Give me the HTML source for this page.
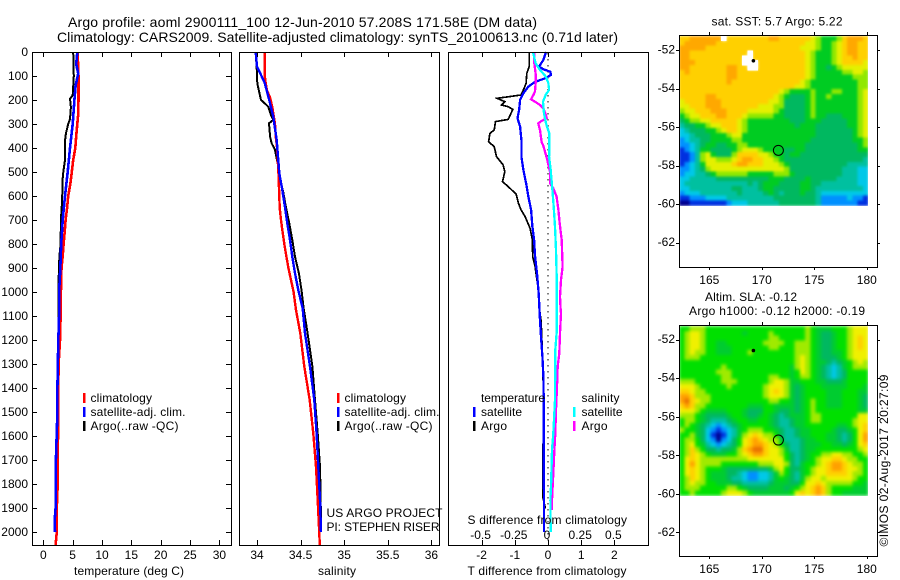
<!DOCTYPE html>
<html>
<head>
<meta charset="utf-8">
<title>Argo profile</title>
<style>
html,body{margin:0;padding:0;background:#fff;}
svg{display:block;}
text{font-family:"Liberation Sans",sans-serif;font-size:12px;fill:#000;}
.t14{font-size:14px;}
</style>
</head>
<body>
<svg id="chart" xmlns="http://www.w3.org/2000/svg" width="900" height="580" viewBox="0 0 900 580">
  <defs>
    <filter id="soften-sst" filterUnits="userSpaceOnUse" x="679" y="36" width="189" height="170" color-interpolation-filters="sRGB">
      <feGaussianBlur stdDeviation="1.3" edgeMode="duplicate"/>
    </filter>
    <filter id="soften-sla" filterUnits="userSpaceOnUse" x="679" y="326" width="189" height="170" color-interpolation-filters="sRGB">
      <feGaussianBlur stdDeviation="1.6" edgeMode="duplicate"/>
    </filter>
  </defs>
  <rect x="0" y="0" width="900" height="580" fill="#fff"/>
  <g id="maps"></g>
  <g id="marks"></g>
  <g id="axes"></g>

  <text class="t14" x="68" y="27" textLength="469">Argo profile: aoml 2900111_100 12-Jun-2010 57.208S 171.58E (DM data)</text>
  <text class="t14" x="57" y="42" textLength="561">Climatology: CARS2009. Satellite-adjusted climatology: synTS_20100613.nc (0.71d later)</text>

  <text x="74" y="575" textLength="110">temperature (deg C)</text>
  <text x="318" y="575" textLength="38">salinity</text>
  <text x="467.5" y="575" textLength="159">T difference from climatology</text>
  <text x="467.5" y="524" textLength="159.5">S difference from climatology</text>

  <g>
    <rect x="83" y="393" width="2.5" height="10" fill="#f00"/>
    <rect x="83" y="407" width="2.5" height="10" fill="#00f"/>
    <rect x="83" y="421" width="2.5" height="10" fill="#000"/>
    <text x="90.5" y="402" textLength="61.5">climatology</text>
    <text x="90.5" y="416" textLength="95">satellite-adj. clim.</text>
    <text x="90.5" y="430" textLength="88">Argo(..raw -QC)</text>
  </g>
  <g>
    <rect x="337" y="393" width="2.5" height="10" fill="#f00"/>
    <rect x="337" y="407" width="2.5" height="10" fill="#00f"/>
    <rect x="337" y="421" width="2.5" height="10" fill="#000"/>
    <text x="344.5" y="402" textLength="61.5">climatology</text>
    <text x="344.5" y="416" textLength="95">satellite-adj. clim.</text>
    <text x="344.5" y="430" textLength="88">Argo(..raw -QC)</text>
  </g>
  <g>
    <text x="481" y="402" textLength="64">temperature</text>
    <rect x="473" y="407" width="2.5" height="10" fill="#00f"/>
    <rect x="473" y="421" width="2.5" height="10" fill="#000"/>
    <text x="481" y="416" textLength="41">satellite</text>
    <text x="481" y="430" textLength="26">Argo</text>
    <text x="581.5" y="402" textLength="38">salinity</text>
    <rect x="573" y="407" width="2.5" height="10" fill="#0ff"/>
    <rect x="573" y="421" width="2.5" height="10" fill="#f0f"/>
    <text x="581.5" y="416" textLength="41">satellite</text>
    <text x="581.5" y="430" textLength="26">Argo</text>
  </g>

  <text x="326.5" y="517" textLength="116">US ARGO PROJECT</text>
  <text x="326.5" y="531" textLength="113">PI: STEPHEN RISER</text>

  <text x="711.5" y="25.5" textLength="131">sat. SST: 5.7 Argo: 5.22</text>
  <text x="705" y="301" textLength="92">Altim. SLA: -0.12</text>
  <text x="689" y="315" textLength="176">Argo h1000: -0.12 h2000: -0.19</text>
  <text transform="translate(888,546.5) rotate(-90)" x="0" y="0" textLength="172">©IMOS 02-Aug-2017 20:27:09</text>
</svg>
<script>
const depthTicks = [0,100,200,300,400,500,600,700,800,900,1000,1100,1200,1300,1400,1500,1600,1700,1800,1900,2000];
const tempTicks = [0,5,10,15,20,25,30];
const salTicks = [34,34.5,35,35.5,36];
const tDiffTicks = [-2,-1,0,1,2];
const sDiffTicks = [-0.5,-0.25,0,0.25,0.5];
const sDiffTickLabels = ["-0.5","-0.25","0","0.25","0.5"];
const lonTicks = [165,170,175,180];
const latTicks = [-52,-54,-56,-58,-60,-62];

const tempClimDepth = [0,100,200,260,300,350,400,450,500,550,600,650,700,750,800,850,900,1000,1100,1200,1300,1400,1500,1600,1700,1800,1900,2000,2054];
const tempClim = [5.85,6,6,5.95,5.8,5.6,5.45,5.1,4.85,4.6,4.25,4.05,3.8,3.65,3.45,3.3,3.1,3,2.95,2.85,2.6,2.55,2.55,2.5,2.45,2.45,2.3,2.3,2.1];
const tempSatDepth = [0,50,90,140,200,300,400,500,600,700,800,900,1000,1100,1200,1400,1500,1700,1900,1950,2000];
const tempSat = [5.8,5.6,5.95,5.5,5.3,5,4.55,4.15,3.7,3.3,3.05,2.9,2.7,2.7,2.55,2.4,2.4,2.15,2.1,1.95,2];
const tempArgoDepth = [0,100,180,195,230,280,300,340,370,450,500,540,570,620,700,800,850,950,1000,1200,1500,1900];
const tempArgo = [5.1,5.2,5,4.55,4.7,4.55,4.25,3.85,3.7,3.7,3.4,3.25,3.25,3.2,3,2.95,2.75,2.6,2.6,2.6,2.4,2.3];

const salClimDepth = [0,100,130,160,190,230,300,350,400,500,600,650,700,750,800,850,900,950,1000,1075,1172,1311,1450,1589,1728,1867,2006,2056];
const salClim = [34.09,34.09,34.1,34.115,34.15,34.175,34.206,34.214,34.23,34.245,34.256,34.26,34.275,34.294,34.313,34.336,34.36,34.39,34.42,34.447,34.497,34.543,34.604,34.646,34.677,34.696,34.715,34.72];
const salSatDepth = [0,61,75,130,200,270,367,505,575,644,714,783,853,922,992,1069,1172,1311,1450,1589,1728,1867,2000];
const salSat = [33.985,34,34.02,34.09,34.14,34.187,34.226,34.256,34.29,34.32,34.348,34.378,34.405,34.436,34.474,34.524,34.55,34.608,34.657,34.684,34.703,34.722,34.734];
const salArgoDepth = [0,90,130,150,200,214,228,263,283,297,353,380,408,464,533,582,644,714,783,853,922,992,1069,1172,1311,1450,1589,1728,1867,2000];
const salArgo = [33.985,34,34.004,34.015,34.046,34.09,34.13,34.16,34.187,34.138,34.15,34.168,34.206,34.237,34.264,34.3,34.33,34.37,34.405,34.436,34.48,34.51,34.535,34.58,34.635,34.665,34.696,34.722,34.73,34.734];

const tDiffArgoDepth = [0,61,89,131,158,179,193,207,221,228,239,263,281,290,325,339,374,394,436,471,499,540,561,592,631,658,686,735,783,853,894,992,1069,1117,1172,1269,1450,1756,1853,1894,1903];
const tDiffArgo = [-0.57,-0.57,-0.64,-0.66,-0.74,-0.81,-1.53,-1.3,-1.4,-1.2,-1.06,-1.14,-1.2,-1.58,-1.62,-1.75,-1.79,-1.62,-1.55,-1.35,-1.3,-1.37,-1.2,-0.96,-0.89,-0.81,-0.69,-0.54,-0.47,-0.46,-0.39,-0.29,-0.26,-0.21,-0.19,-0.17,-0.13,-0.16,-0.16,-0.09,-0.09];
const tDiffSatDepth = [0,33,61,72,82,96,110,124,144,172,200,242,276,311,367,436,492,547,603,658,728,783,853,922,1006,1069,1117,1186,1269,1353,1450,1589,1728,1867,2000];
const tDiffSat = [-0.06,-0.14,-0.27,-0.14,0.07,0.09,-0.09,-0.39,-0.59,-0.74,-0.84,-0.87,-0.92,-0.84,-0.8,-0.8,-0.74,-0.66,-0.59,-0.51,-0.47,-0.42,-0.39,-0.33,-0.28,-0.26,-0.24,-0.21,-0.17,-0.14,-0.13,-0.13,-0.13,-0.12,-0.12];
const sDiffArgoDepth = [0,47,89,131,165,179,197,207,221,235,263,276,287,297,325,374,394,450,506,547,568,603,658,714,783,894,950,1019,1069,1089,1172,1255,1311,1394,1492,1589,1658,1756,1867,1908];
const sDiffArgo = [-0.105,-0.103,-0.093,-0.093,-0.098,-0.11,-0.128,-0.098,-0.06,-0.035,-0.015,-0.01,-0.048,-0.073,-0.06,-0.048,-0.033,-0.005,0.018,0.015,0.04,0.065,0.078,0.088,0.103,0.11,0.098,0.09,0.095,0.098,0.09,0.085,0.073,0.068,0.06,0.055,0.048,0.04,0.03,0.028];
const sDiffSatDepth = [0,47,75,103,131,158,179,207,256,297,339,381,436,492,575,644,728,825,922,1069,1172,1241,1450,1589,1658,1797,1867,2000];
const sDiffSat = [-0.113,-0.093,-0.06,-0.015,0.003,0.008,-0.018,-0.038,-0.03,-0.015,0.01,0.01,0.008,0.02,0.033,0.043,0.053,0.06,0.065,0.065,0.065,0.055,0.053,0.04,0.03,0.023,0.018,0.02];

const sstLevels = [
[9,9,10,10,10,10,10,10,-1,9,9,9,9,9,9,9,9,10,10,9,9,9,9,9,9,8,7,6,6,6,7,9,10,10,10,9],
[9,10,10,10,10,10,10,9,9,9,9,9,9,9,9,9,9,9,9,9,9,9,9,9,8,8,7,6,6,7,8,9,10,10,9,9],
[10,10,10,10,10,9,9,9,9,9,9,9,9,9,9,9,9,9,9,9,9,9,9,8,8,8,7,6,6,7,8,9,10,10,9,9],
[10,10,9,9,9,9,9,9,9,9,9,9,9,-1,9,9,9,9,9,9,9,9,9,9,8,7,6,6,6,7,8,9,10,10,9,9],
[10,10,9,9,9,9,9,9,9,9,9,9,-1,-1,9,9,9,9,9,9,9,9,9,9,8,7,6,6,6,7,8,9,9,10,9,9],
[10,10,10,9,9,9,9,9,9,9,9,9,-1,-1,-1,9,9,9,9,9,9,9,9,9,8,7,6,6,6,7,8,9,9,9,9,8],
[10,10,9,9,9,9,9,9,9,10,10,9,9,-1,-1,9,9,9,9,9,9,9,9,9,8,7,6,6,5,6,7,8,8,8,8,8],
[9,10,9,9,9,9,9,9,9,10,10,9,9,9,9,9,9,9,9,9,9,9,9,9,8,7,6,6,6,6,6,7,7,8,8,7],
[9,9,9,9,9,9,9,9,9,10,10,9,9,9,9,9,9,9,9,9,9,9,9,9,8,7,6,6,6,6,6,6,6,7,7,7],
[9,9,9,9,9,9,9,9,9,10,9,9,9,9,9,9,9,9,9,9,9,9,9,8,7,6,6,6,6,6,6,6,6,6,7,7],
[9,9,9,9,9,9,9,9,9,9,9,9,9,9,9,9,9,9,9,9,9,9,8,8,7,6,6,6,6,6,6,6,6,6,7,7],
[9,9,9,9,9,9,9,9,9,9,9,9,9,9,9,9,9,9,9,8,7,6,6,6,6,7,6,6,6,7,7,6,6,6,7,8],
[9,9,9,9,9,10,10,9,9,9,9,9,9,9,9,9,9,9,8,7,6,5,5,5,6,7,6,6,7,6,6,6,6,6,7,8],
[8,9,9,9,9,10,10,10,9,9,9,9,9,9,9,9,9,8,8,7,5,5,5,5,6,7,6,6,6,6,6,6,6,6,7,8],
[8,8,9,9,9,10,10,10,9,9,9,9,9,9,9,8,8,8,7,7,5,5,5,5,6,7,6,6,6,6,6,6,6,6,7,8],
[7,8,8,9,9,9,10,10,10,9,9,9,9,8,8,8,8,8,7,6,5,5,5,5,6,7,6,6,6,6,6,6,6,6,7,8],
[6,7,8,8,9,9,9,10,10,9,9,9,8,7,7,7,7,7,6,6,5,5,5,5,6,7,6,6,5,5,5,6,6,6,7,8],
[5,6,7,7,8,8,9,9,9,9,9,8,7,6,6,6,6,6,6,6,6,5,5,5,6,6,6,5,5,5,5,5,6,6,7,8],
[4,5,5,6,6,7,8,8,9,9,9,8,7,6,6,6,6,6,6,6,6,6,5,6,6,6,5,5,5,5,5,5,6,6,7,8],
[3,4,5,5,5,6,6,7,8,9,9,8,7,6,6,6,6,6,6,6,6,6,6,6,6,6,5,5,5,5,5,5,5,6,7,8],
[3,3,4,5,5,5,6,6,6,7,8,8,6,6,6,6,6,6,6,6,6,6,6,6,6,6,5,5,5,5,5,5,5,6,7,8],
[2,3,4,4,5,5,6,6,6,6,7,7,6,6,6,6,6,6,6,6,6,6,6,6,6,5,5,5,5,5,5,5,5,6,6,7],
[2,2,3,4,5,6,6,5,5,6,6,7,7,6,6,6,6,6,6,6,6,6,6,6,5,5,5,5,5,5,5,5,5,5,6,7],
[1,2,3,4,6,6,5,5,5,5,6,7,8,8,8,7,6,6,6,6,5,5,6,6,5,5,5,5,5,5,5,5,5,5,6,6],
[1,1,2,4,7,8,6,5,5,5,7,9,9,9,9,8,8,7,6,6,5,6,6,5,5,5,5,5,5,5,5,5,5,5,5,5],
[1,1,2,4,7,8,8,7,7,7,8,9,10,10,9,9,8,8,7,6,5,5,5,5,5,5,5,5,5,5,5,5,5,5,5,4],
[1,2,3,4,6,8,8,8,8,8,9,10,10,9,9,9,8,8,8,7,6,5,5,5,5,5,5,5,5,5,5,5,4,4,4,4],
[2,2,3,4,5,7,8,8,8,8,8,8,8,8,8,8,8,8,8,8,7,5,5,5,5,5,5,5,5,5,5,4,4,4,3,3],
[2,3,3,4,4,5,6,7,7,7,7,7,7,6,6,6,6,6,7,7,7,6,5,5,5,5,5,5,5,5,5,4,4,4,3,3],
[3,3,4,4,4,4,4,5,5,5,5,5,5,5,5,5,5,6,6,6,5,5,5,5,6,5,5,5,5,5,4,4,4,4,3,3],
[3,4,4,4,4,4,4,4,4,4,4,4,4,5,4,5,6,6,6,5,5,5,5,6,6,5,5,4,4,4,4,4,4,4,3,3],
[3,3,4,4,4,4,4,4,4,4,5,5,4,4,4,5,6,6,5,5,5,5,5,6,6,5,4,4,4,4,4,4,4,4,4,3],
[2,3,3,3,4,4,4,4,4,4,4,5,4,4,4,4,5,6,5,4,5,5,5,6,5,5,4,3,3,3,3,3,3,3,3,3],
[1,1,2,2,2,3,3,3,3,4,4,4,4,4,4,4,4,4,5,5,5,5,5,5,5,5,4,2,2,2,2,2,3,2,2,1],
[0,0,1,1,1,1,1,1,1,2,3,3,3,4,4,4,4,4,4,5,5,5,5,5,5,5,4,2,2,2,2,2,2,2,1,1]
];

const slaLevels = [
[7,7,8,8,8,7,7,7,7,7,7,7,7,7,7,7,7,7,7,7,7,7,7,7,8,7,6,6,6,7,7,7,8,9,9,9],
[7,8,9,9,8,7,7,7,7,7,7,7,6,7,7,7,7,8,7,7,7,7,7,7,8,7,6,5,5,6,7,7,8,9,9,9],
[7,8,9,9,8,7,7,7,7,7,7,7,7,7,7,7,7,8,8,7,7,7,7,7,8,7,6,5,5,6,7,7,8,9,10,9],
[7,8,9,9,8,7,7,6,6,7,7,7,7,7,7,7,8,8,8,8,7,7,8,8,8,7,6,5,5,6,7,7,8,9,10,9],
[7,8,9,9,8,7,7,6,6,6,7,7,7,7,7,7,7,8,8,7,7,7,8,8,8,7,6,5,5,6,7,7,8,9,10,9],
[7,8,9,8,8,7,7,6,6,6,7,7,7,8,7,7,7,7,7,7,7,7,8,8,8,7,6,5,5,6,6,7,8,9,9,9],
[7,8,8,8,7,7,7,7,7,7,7,7,7,7,7,7,7,7,7,7,7,7,8,9,8,7,6,5,5,5,6,7,8,9,9,9],
[7,7,7,7,7,7,7,7,7,7,7,7,7,7,7,7,7,7,7,7,7,7,8,9,8,7,6,6,5,4,5,6,7,8,9,8],
[7,7,7,7,7,7,7,7,8,7,7,7,7,7,7,7,7,7,7,7,7,6,8,9,8,7,6,5,4,3,4,6,7,8,8,8],
[7,7,7,7,7,7,7,8,8,8,7,7,7,7,7,7,7,7,7,7,7,6,7,9,8,7,6,5,4,3,4,5,7,7,7,7],
[7,7,7,7,7,7,7,7,8,8,7,7,7,7,7,7,7,8,8,7,7,6,7,8,8,7,6,5,4,3,4,5,7,7,7,7],
[8,8,8,7,7,7,7,7,8,8,8,7,7,7,7,7,7,8,9,9,8,6,6,7,7,7,6,6,5,5,5,6,7,7,7,7],
[9,9,9,8,7,7,7,7,7,8,7,7,7,7,7,7,8,9,9,9,8,6,5,6,7,7,7,6,6,6,6,6,7,7,7,6],
[10,10,9,8,8,7,7,7,7,7,7,7,7,7,7,7,8,9,10,9,8,6,5,6,7,7,7,7,6,6,6,7,7,7,6,6],
[11,11,10,8,8,8,7,7,7,7,7,7,7,7,7,7,8,9,9,9,8,6,5,6,7,7,7,7,6,6,6,7,7,7,6,5],
[11,12,10,9,8,8,7,7,7,7,7,7,7,7,7,7,7,8,8,7,7,6,5,6,7,8,7,7,6,6,6,7,7,7,6,5],
[10,11,10,8,8,7,7,7,7,7,7,7,7,6,6,6,7,7,6,6,6,6,5,6,7,8,7,7,6,6,6,7,7,7,6,5],
[9,9,9,8,7,6,6,6,6,7,7,7,6,5,5,5,7,7,6,5,5,6,5,6,7,8,7,7,7,7,7,7,7,7,6,6],
[8,8,8,7,6,5,5,5,5,6,7,7,6,5,5,6,7,6,5,4,5,6,6,6,7,8,8,7,7,7,7,7,7,7,9,9],
[7,8,8,7,6,5,4,4,4,5,6,7,7,6,6,7,7,6,5,4,4,5,6,6,7,8,8,7,7,7,7,7,7,8,9,9],
[7,8,7,6,5,4,3,2,3,4,5,6,7,7,7,7,7,6,5,4,4,5,6,6,7,7,7,7,7,7,6,6,7,8,9,10],
[8,7,7,6,5,3,2,1,2,3,4,6,7,8,8,8,7,7,6,5,4,4,5,6,6,7,7,7,7,6,5,5,6,7,9,10],
[7,7,8,6,5,3,1,0,1,3,4,6,8,9,10,9,8,8,7,5,4,4,5,6,6,7,7,7,6,6,5,4,5,7,9,11],
[7,8,8,7,5,3,2,0,2,3,5,7,9,10,11,10,9,8,8,6,4,4,4,5,6,6,7,7,6,6,5,4,5,7,9,11],
[7,8,9,7,6,4,3,2,3,4,5,7,9,10,11,11,10,9,8,7,5,4,4,5,6,6,6,7,7,6,6,5,6,7,9,10],
[7,8,10,8,7,5,5,4,5,5,6,8,10,11,12,12,10,9,9,8,6,4,4,5,6,6,7,7,7,7,7,7,7,7,8,9],
[7,8,10,9,8,7,6,6,6,7,7,8,9,10,11,11,10,9,9,8,7,5,4,5,6,7,7,8,8,9,9,8,8,7,7,8],
[7,9,10,9,8,8,8,8,8,8,8,8,8,9,9,9,9,9,9,9,7,5,4,5,6,7,8,9,9,10,10,9,8,8,7,7],
[7,9,11,9,8,8,8,8,7,7,7,7,7,7,7,8,8,8,9,9,8,5,4,6,7,7,8,9,10,11,11,10,9,8,8,7],
[7,9,10,9,8,7,7,7,6,5,5,5,5,5,5,5,5,6,8,9,7,5,5,6,7,8,9,9,10,11,11,10,9,9,8,7],
[7,9,10,9,8,7,6,6,6,5,5,4,3,2,2,3,3,4,6,8,7,5,4,6,7,8,9,9,10,10,10,10,9,8,8,7],
[7,8,10,9,8,7,6,6,6,5,4,4,3,2,2,3,3,4,6,7,6,5,4,6,8,9,9,8,9,9,9,9,9,8,7,7],
[7,8,9,8,8,7,7,6,6,6,5,5,4,4,4,4,4,5,6,6,6,5,5,7,9,9,10,9,8,8,8,8,8,7,7,6],
[7,8,8,8,7,7,7,7,7,8,8,7,6,5,5,5,5,6,6,6,5,6,7,8,9,10,11,10,8,7,7,7,7,6,6,6],
[7,7,8,7,7,7,7,7,8,9,9,9,8,7,6,6,6,6,6,6,6,7,9,10,9,10,11,10,8,7,7,6,6,6,6,6]
];

const sstPalette = ["#000090","#0030e0","#0090ff","#00c8e8","#00c0a0","#00b860","#00cc22","#90e800","#e4f000","#ffd000","#ffa800"];
const slaPalette = ["#000090","#0030e0","#0090ff","#00c8e8","#00c0a0","#00b860","#00cc30","#00e000","#a0ea00","#f0f000","#ffd000","#ffa000","#e87000"];

const argoLon = 169.2, argoLat = -52.56;
const floatLon = 171.58, floatLat = -57.208;

const NS = "http://www.w3.org/2000/svg";
const axesG = document.getElementById('axes');
const marksG = document.getElementById('marks');
const mapsG = document.getElementById('maps');

function mk(tag, parent, attrs){
  const e = document.createElementNS(NS, tag);
  for (const k in attrs) e.setAttribute(k, attrs[k]);
  parent.appendChild(e);
  return e;
}

/* axis functions */
const yDepth = d => 52 + d * 0.24;
const xTemp = v => 43.3 + v * 5.87;
const xSal = v => 257 + (v - 34) * 87.2;
const xTDiff = v => 548 + v * 33.2;
const xSDiff = v => 548 + v * 4 * 33.2;
const xLon = v => 709.3 + (v - 165) * 10.5;
const yLat1 = v => 50 - (v + 52) * 19.27;
const yLat2 = v => 339.7 - (v + 52) * 19.27;

function line(x1, y1, x2, y2, name){
  const l = mk('line', axesG, {x1, y1, x2, y2, stroke:'#000', 'stroke-width':1, 'shape-rendering':'crispEdges'});
  
  
  return l;
}
function label(x, y, str, anchor, name){
  const t = mk('text', axesG, {x, y, 'text-anchor':anchor});
  t.textContent = str;
  
  
  return t;
}
function frame(x0, y0, x1, y1, name){
  const r = mk('rect', axesG, {x:x0+0.5, y:y0+0.5, width:x1-x0, height:y1-y0, fill:'none', stroke:'#000', 'stroke-width':1, 'shape-rendering':'crispEdges'});
  
  
}
function profile(depths, values, xFn, color, width, name){
  const pts = depths.map((d, i) => xFn(values[i]).toFixed(1) + ',' + yDepth(d).toFixed(1)).join(' ');
  const p = mk('polyline', marksG, {points:pts, fill:'none', stroke:color, 'stroke-width':width, 'stroke-linejoin':'miter', 'shape-rendering':'crispEdges'});
  
  
}
function profileTicks(xFn, ticks, labels, name){
  ticks.forEach((t, i) => {
    const x = Math.round(xFn(t)) + 0.5;
    line(x, 53, x, 57, name + '-top-tick');
    line(x, 540, x, 545, name + '-bottom-tick');
    label(xFn(t), 559, labels[i], 'middle', name + '-tick-label');
  });
}
function heatmap(levels, palette, yBase, filterId, name){
  const cw = 5.25, ch = 4.84, x0 = 679, y0 = yBase;
  const g = mk('g', mapsG, {filter:'url(#' + filterId + ')'});
  
  
  const over = mk('g', mapsG, {});
  
  
  levels.forEach((row, j) => {
    row.forEach((v, i) => {
      const r = mk('rect', v < 0 ? over : g, {
        x:(x0 + i * cw).toFixed(2), y:(y0 + j * ch).toFixed(2),
        width:(cw + 0.4).toFixed(2), height:(ch + 0.4).toFixed(2),
        fill:v < 0 ? '#fff' : palette[v], 'shape-rendering':'crispEdges'
      });
      
      
    });
  });
}
function mapAxes(top, bottom, yLat, name){
  frame(679, top, 877, bottom, name + '-frame');
  lonTicks.forEach(v => {
    const x = Math.round(xLon(v)) + 0.5;
    line(x, top - 3, x, top, name + '-top-tick');
    line(x, bottom + 1, x, bottom + 3, name + '-bottom-tick');
    label(xLon(v), bottom + 17, String(v), 'middle', name + '-lon-label');
  });
  latTicks.forEach(v => {
    const y = Math.round(yLat(v)) + 0.5;
    line(676, y, 679, y, name + '-left-tick');
    line(878, y, 880, y, name + '-right-tick');
    label(675, yLat(v) + 3.5, String(v), 'end', name + '-lat-label');
  });
  const dot = mk('circle', axesG, {cx:xLon(argoLon), cy:yLat(argoLat), r:1.8, fill:'#000'});
  
  
  const ring = mk('circle', axesG, {cx:xLon(floatLon), cy:yLat(floatLat), r:5, fill:'none', stroke:'#000', 'stroke-width':1});
  
  
}

/* maps */
heatmap(sstLevels, sstPalette, 36, 'soften-sst', 'sst-map');
heatmap(slaLevels, slaPalette, 326, 'soften-sla', 'sla-map');
mapAxes(35, 267, yLat1, 'sst-map');
mapAxes(325, 556, yLat2, 'sla-map');

/* zero reference line */
const zeroLine = mk('line', marksG, {x1:xTDiff(0), x2:xTDiff(0), y1:53, y2:545, stroke:'#000', 'stroke-width':1, 'stroke-dasharray':'1.5 4.5'});



/* temperature panel */
profile(tempArgoDepth, tempArgo, xTemp, '#000', 2, 'temperature-argo-line');
profile(tempClimDepth, tempClim, xTemp, '#f00', 2.6, 'temperature-climatology-line');
profile(tempSatDepth, tempSat, xTemp, '#00f', 2.6, 'temperature-satellite-line');
frame(32, 52, 231, 545, 'temperature-panel-frame');
depthTicks.forEach(d => {
  const y = Math.round(yDepth(d)) + 0.5;
  if (d > 0) line(33, y, 37, y, 'depth-left-tick');
  if (d > 0) line(226, y, 231, y, 'depth-right-tick');
  label(28, yDepth(d) + 4, String(d), 'end', 'depth-tick-label');
});
profileTicks(xTemp, tempTicks, tempTicks.map(String), 'temperature');

/* salinity panel */
profile(salArgoDepth, salArgo, xSal, '#000', 2, 'salinity-argo-line');
profile(salClimDepth, salClim, xSal, '#f00', 2.4, 'salinity-climatology-line');
profile(salSatDepth, salSat, xSal, '#00f', 2.4, 'salinity-satellite-line');
frame(239, 52, 439, 545, 'salinity-panel-frame');
profileTicks(xSal, salTicks, salTicks.map(String), 'salinity');

/* difference panel */
profile(tDiffArgoDepth, tDiffArgo, xTDiff, '#000', 1.7, 't-difference-argo-line');
profile(tDiffSatDepth, tDiffSat, xTDiff, '#00f', 2.3, 't-difference-satellite-line');
profile(sDiffArgoDepth, sDiffArgo, xSDiff, '#f0f', 2.3, 's-difference-argo-line');
profile(sDiffSatDepth, sDiffSat, xSDiff, '#0ff', 2.3, 's-difference-satellite-line');
frame(448, 52, 648, 545, 'difference-panel-frame');
profileTicks(xTDiff, tDiffTicks, tDiffTicks.map(String), 't-difference');
sDiffTicks.forEach((v, i) => {
  label(xSDiff(v) - 1, 539, sDiffTickLabels[i], 'middle', 's-difference-tick-label');
});
</script>
</body>
</html>
